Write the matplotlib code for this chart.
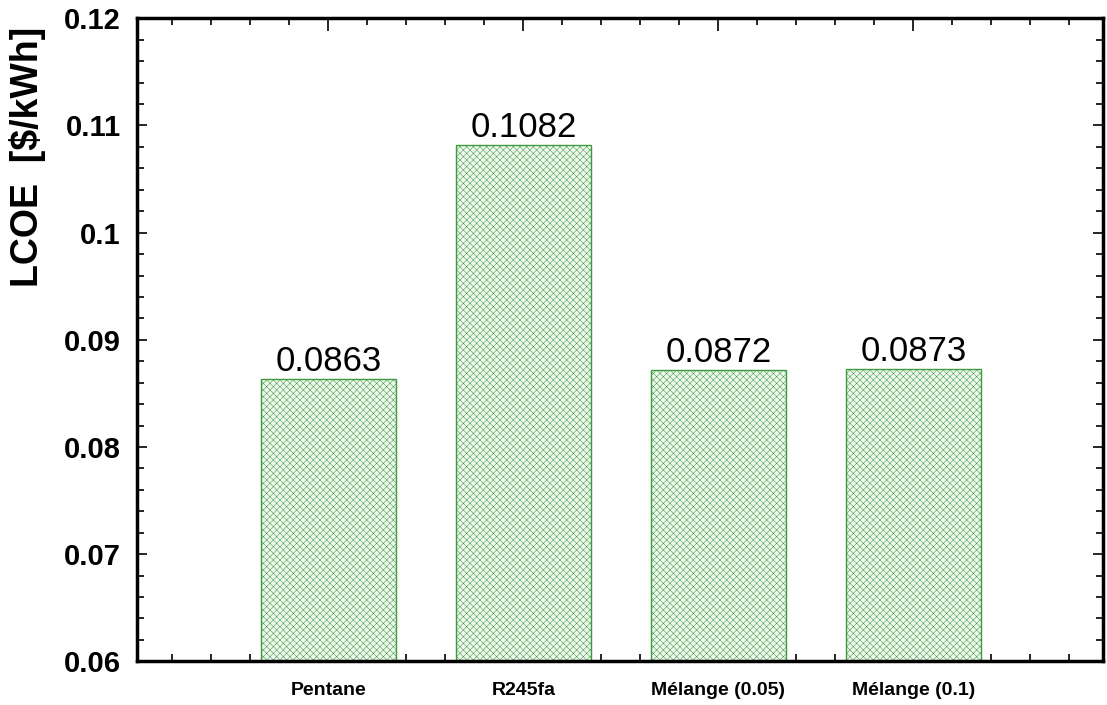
import matplotlib as mpl

mpl.use("Agg")
import matplotlib.pyplot as plt
from matplotlib.ticker import MultipleLocator

fluids = ["Pentane", "R245fa", "Mélange (0.05)", "Mélange (0.1)"]
lcoe = [0.0863, 0.1082, 0.0872, 0.0873]
positions = [1, 2, 3, 4]

plt.rcParams["font.family"] = ["Liberation Sans", "DejaVu Sans"]
plt.rcParams["hatch.linewidth"] = 0.35
plt.rcParams["hatch.color"] = "#6dbd6d"

fig = plt.figure(figsize=(11.07, 7.05), dpi=100)
ax = fig.add_axes([0.124, 0.062, 0.872, 0.912])

# light crosshatched bars with a thin green outline
ax.bar(positions, lcoe, width=0.69,
       facecolor="#eef8ee", edgecolor="#3d9a3d", linewidth=1.0,
       hatch="xxxxx", zorder=2)
for x, v in zip(positions, lcoe):
    ax.text(x, v + 0.0001, f"{v:.4f}", ha="center", va="bottom", fontsize=25)

ax.set_xlim(0.02, 4.97)
ax.set_ylim(0.06, 0.12)
ax.set_xticks(positions)
ax.set_xticklabels(fluids, fontsize=14, fontweight="bold")
ax.xaxis.set_minor_locator(MultipleLocator(0.2))
ax.yaxis.set_minor_locator(MultipleLocator(0.002))
ax.set_yticks([0.06, 0.07, 0.08, 0.09, 0.1, 0.11, 0.12])
ax.set_yticklabels(["0.06", "0.07", "0.08", "0.09", "0.1", "0.11", "0.12"],
                   fontsize=21, fontweight="bold")
ax.set_ylabel("LCOE  [$/kWh]", fontsize=27, fontweight="bold")
ax.yaxis.set_label_coords(-0.095, 0.785)

ax.tick_params(which="both", direction="in", top=True, right=True, width=1.2)
ax.tick_params(which="major", length=9)
ax.tick_params(which="minor", length=5)
ax.tick_params(axis="y", which="major", length=7)
ax.tick_params(axis="x", which="major", pad=15)
ax.tick_params(axis="y", which="major", pad=12)
for side in ax.spines.values():
    side.set_linewidth(2.5)

fig.savefig("out.png", dpi=100)
